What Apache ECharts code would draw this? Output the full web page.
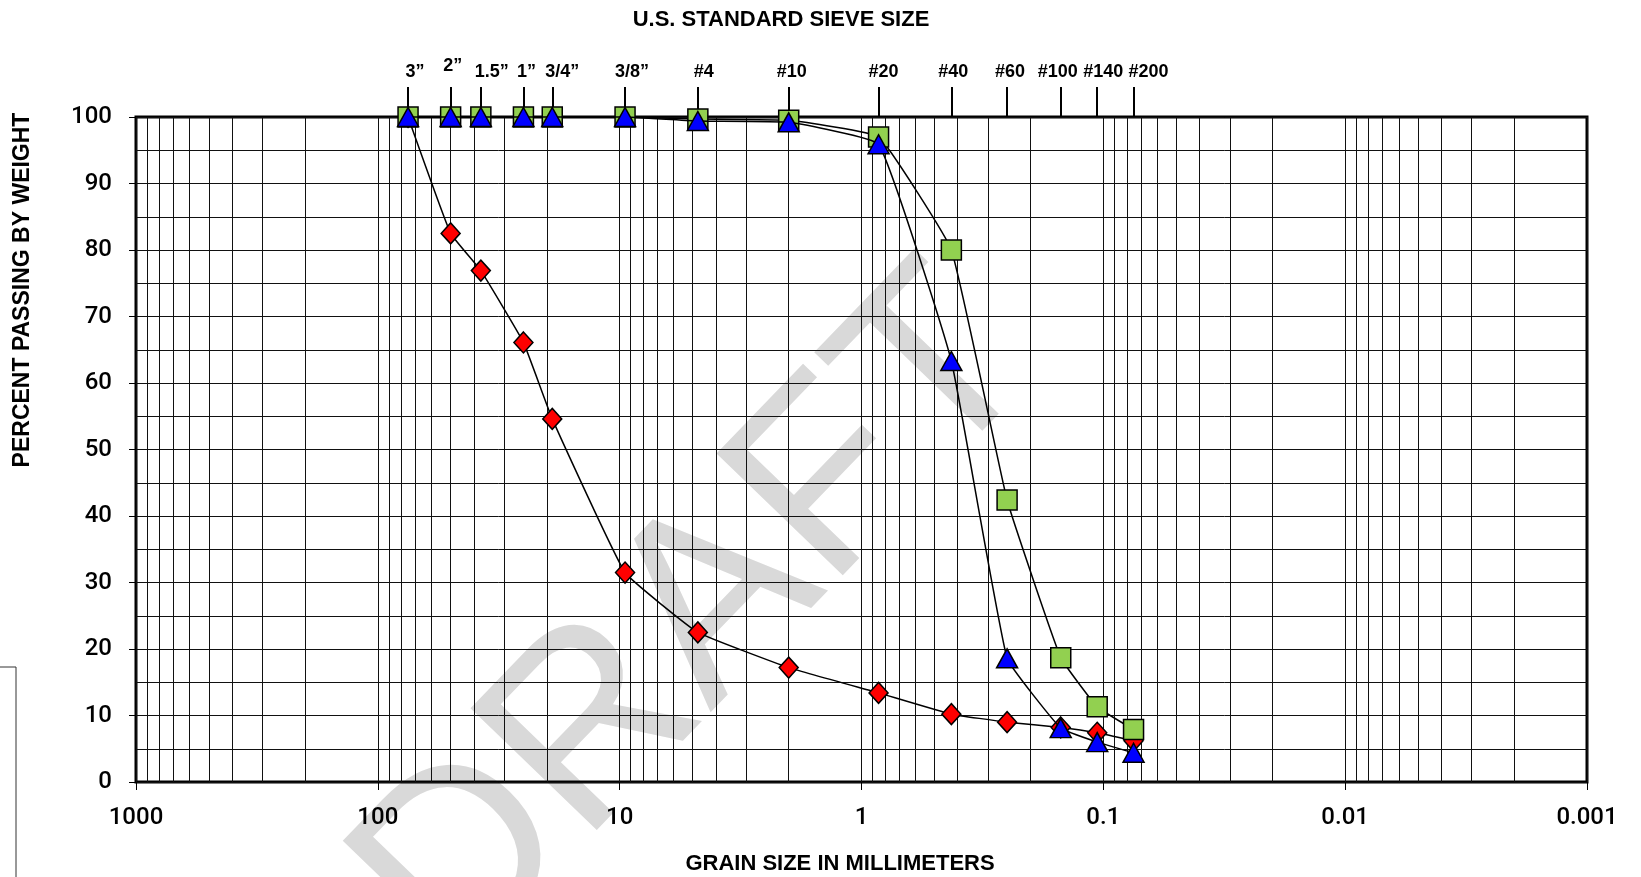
<!DOCTYPE html>
<html>
<head>
<meta charset="utf-8">
<title>Grain Size Distribution</title>
<script src="https://cdn.jsdelivr.net/npm/echarts@6/dist/echarts.min.js"></script>
<style>
  html, body { margin: 0; padding: 0; background: #fff; }
  #chart { width: 1641px; height: 877px; }
</style>
</head>
<body>
<div id="chart"></div>
<script>
// Sieve openings (mm) and their U.S. standard names
const sieveSizes  = [75, 50, 37.5, 25, 19, 9.5, 4.75, 2.0, 0.85, 0.425, 0.25, 0.15, 0.106, 0.075];
const sieveLabels = ['3”', '2”', '1.5”', '1”', '3/4”', '3/8”', '#4', '#10', '#20', '#40', '#60', '#100', '#140', '#200'];

// Percent passing by weight for each sample
const passingGravel = [100, 82.5, 76.9, 66.1, 54.6, 31.5, 22.5, 17.2, 13.4, 10.2, 9.0, 8.2, 7.4, 6.2];
const passingSandA  = [100, 100, 100, 100, 100, 100, 99.7, 99.5, 97.0, 80.0, 42.4, 18.7, 11.3, 7.9];
const passingSandB  = [100, 100, 100, 100, 100, 100, 99.4, 99.2, 95.9, 63.3, 18.6, 8.1, 6.0, 4.4];

// Grain size axis (decades) and percent axis
const decadeValues = [1000, 100, 10, 1, 0.1, 0.01, 0.001];
const decadeLabels = ['1000', '100', '10', '1', '0.1', '0.01', '0.001'];
const percentMin = 0, percentMax = 100, percentStep = 10;

// Log-paper vertical rules: 1..9 in every decade
const logRules = [];
for (let k = -3; k <= 2; k++) {
  for (let m = 1; m <= 9; m++) logRules.push(+(m * Math.pow(10, k)).toPrecision(6));
}
logRules.push(1000);

const FONT = '"Liberation Sans", Arial, sans-serif';
const toPairs = vals => sieveSizes.map((s, i) => [s, vals[i]]);

// Sieve label styling: small sideways nudges keep the crowded names apart,
// and the 2" name sits a little higher than the rest.
const labelNudge = { '3”': 7, '2”': 2, '1.5”': 11, '1”': 3, '3/4”': 10, '3/8”': 7, '#4': 6,
                     '#10': 3, '#20': 5, '#40': 2, '#60': 3, '#100': -3, '#140': 6, '#200': 15 };
const sieveRich = {};
const sieveKey = {};
sieveSizes.forEach((s, i) => {
  const name = sieveLabels[i];
  const d = labelNudge[name] || 0;
  const key = 's' + i;
  sieveKey[s] = key;
  sieveRich[key] = {
    color: '#000', fontFamily: FONT, fontWeight: 'bold', fontSize: 18,
    padding: [0, d < 0 ? -2 * d : 0, name === '2”' ? 6 : 0, d > 0 ? 2 * d : 0]
  };
});
const sieveText = {};
sieveSizes.forEach((s, i) => { sieveText[s] = '{' + sieveKey[s] + '|' + sieveLabels[i] + '}'; });

const chart = echarts.init(document.getElementById('chart'), null, { renderer: 'canvas' });

const logAxisBase = {
  type: 'log', logBase: 10, min: 0.001, max: 1000, inverse: true,
  gridIndex: 0
};

const option = {
  animation: false,
  backgroundColor: '#fff',
  grid: {
    left: 136, top: 117, width: 1451, height: 665,
    show: true, borderColor: '#000', borderWidth: 3,
    backgroundColor: 'transparent',
    containLabel: false, outerBoundsMode: 'none'
  },
  xAxis: [
    // grain size rules and decade labels
    Object.assign({}, logAxisBase, {
      position: 'bottom',
      axisLine: { show: false },
      axisTick: { show: false, customValues: logRules },
      splitLine: { show: true, lineStyle: { color: '#111', width: 1 } },
      axisLabel: {
        show: true, customValues: decadeValues,
        formatter: v => decadeLabels[decadeValues.indexOf(v)] ?? String(v),
        color: '#000', fontFamily: 'Roboto, ' + FONT, fontWeight: 500, fontSize: 24,
        margin: 24
      }
    }),
    // sieve size ticks along the top
    Object.assign({}, logAxisBase, {
      position: 'top',
      axisLine: { show: false },
      axisTick: { show: true, inside: false, length: 30, customValues: sieveSizes,
                  lineStyle: { color: '#000', width: 2 } },
      splitLine: { show: false },
      axisLabel: {
        show: true, customValues: sieveSizes,
        formatter: v => sieveText[v] ?? '',
        color: '#000', fontFamily: FONT, fontWeight: 'bold', fontSize: 18, margin: 36,
        rich: sieveRich
      }
    }),
    // short decade ticks below the frame
    Object.assign({}, logAxisBase, {
      position: 'bottom',
      axisLine: { show: false },
      axisTick: { show: true, length: 8, customValues: decadeValues,
                  lineStyle: { color: '#000', width: 1 } },
      splitLine: { show: false },
      axisLabel: { show: false }
    })
  ],
  yAxis: [{
    type: 'value', min: percentMin, max: percentMax, interval: percentStep,
    axisLine: { show: false },
    axisTick: { show: true, length: 7, lineStyle: { color: '#000', width: 1 } },
    minorTick: { show: false, splitNumber: 2 },
    splitLine: { show: true, lineStyle: { color: '#111', width: 1 } },
    minorSplitLine: { show: true, lineStyle: { color: '#111', width: 1 } },
    axisLabel: {
      color: '#000', fontFamily: 'Roboto, ' + FONT, fontWeight: 500, fontSize: 24, margin: 24
    }
  }],
  graphic: [
    {
      type: 'text', z: -10, silent: true,
      x: 699, y: 623, rotation: 46 * Math.PI / 180,
      style: { text: 'DRAFT', font: '255px ' + FONT, fill: '#d9d9d9',
               align: 'center', verticalAlign: 'middle' }
    },
    {
      type: 'text', x: 781, y: 20,
      style: { text: 'U.S. STANDARD SIEVE SIZE', font: 'bold 22px ' + FONT, fill: '#000',
               align: 'center', verticalAlign: 'middle' }
    },
    {
      type: 'text', x: 840, y: 864,
      style: { text: 'GRAIN SIZE IN MILLIMETERS', font: 'bold 22px ' + FONT, fill: '#000',
               align: 'center', verticalAlign: 'middle' }
    },
    {
      type: 'text', x: 23, y: 290, rotation: Math.PI / 2,
      style: { text: 'PERCENT PASSING BY WEIGHT', font: 'bold 23px ' + FONT, fill: '#000',
               align: 'center', verticalAlign: 'middle' }
    },
    {
      type: 'polyline', silent: true,
      shape: { points: [[0, 667], [16, 667], [16, 877]] },
      style: { stroke: '#333', lineWidth: 1, fill: null }
    }
  ],
  series: [
    {
      name: 'Sample 1', type: 'line', xAxisIndex: 0, yAxisIndex: 0,
      data: toPairs(passingGravel), smooth: 0.1, clip: false, showAllSymbol: true,
      symbol: 'diamond', symbolSize: [19, 21],
      lineStyle: { color: '#000', width: 1.5 },
      itemStyle: { color: '#ff0000', borderColor: '#000', borderWidth: 1.5 },
      z: 3
    },
    {
      name: 'Sample 2', type: 'line', xAxisIndex: 0, yAxisIndex: 0,
      data: toPairs(passingSandA), smooth: 0.1, clip: false, showAllSymbol: true,
      symbol: 'rect', symbolSize: 20,
      lineStyle: { color: '#000', width: 1.5 },
      itemStyle: { color: '#92d050', borderColor: '#000', borderWidth: 1.5 },
      z: 4
    },
    {
      name: 'Sample 3', type: 'line', xAxisIndex: 0, yAxisIndex: 0,
      data: toPairs(passingSandB), smooth: 0.1, clip: false, showAllSymbol: true,
      symbol: 'triangle', symbolSize: [21, 19],
      lineStyle: { color: '#000', width: 1.5 },
      itemStyle: { color: '#0000ff', borderColor: '#000', borderWidth: 1.5 },
      z: 5
    }
  ]
};

chart.setOption(option);
</script>
</body>
</html>
